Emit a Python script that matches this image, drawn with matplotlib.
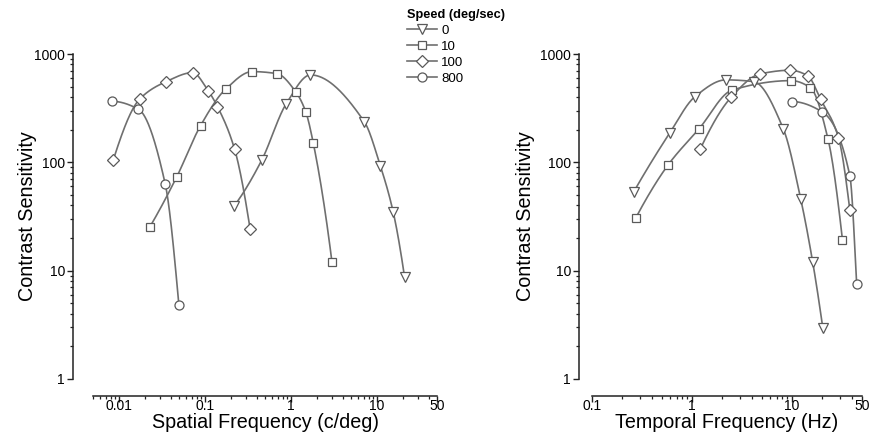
import numpy as np
import matplotlib
matplotlib.use("Agg")
import matplotlib.pyplot as plt
from matplotlib.ticker import FixedLocator, LogLocator, NullFormatter

plt.rcParams['font.family'] = ['Liberation Sans', 'DejaVu Sans']

# legend / series
speeds = ['0', '10', '100', '800']
markers = ['v', 's', 'D', 'o']
msizes = [7.5, 6, 6, 6.5]

# spatial frequency panel (c/deg, contrast sensitivity)
sf_0 = [0.219, 0.456, 0.88, 1.69, 7.12, 10.96, 15.5, 21.0]
cs_sf_0 = [39.6, 104, 346, 641, 238, 93, 34.6, 8.7]
sf_10 = [0.0229, 0.0469, 0.089, 0.174, 0.355, 0.687, 1.14, 1.49, 1.82, 3.0]
cs_sf_10 = [25.3, 73, 218, 473, 688, 659, 447, 292, 151, 12.1]
sf_100 = [0.0086, 0.0175, 0.0355, 0.072, 0.109, 0.140, 0.221, 0.336]
cs_sf_100 = [105, 385, 556, 673, 459, 327, 133, 24.1]
sf_800 = [0.0083, 0.0169, 0.0345, 0.0499]
cs_sf_800 = [366, 309, 63.6, 4.79]

# temporal frequency panel (Hz, contrast sensitivity)
tf_0 = [0.26, 0.597, 1.07, 2.18, 4.13, 8.15, 12.2, 16.1, 20.3]
cs_tf_0 = [53, 186, 404, 577, 556, 205, 45.9, 11.9, 2.94]
tf_10 = [0.275, 0.578, 1.18, 2.5, 9.8, 15.2, 22.9, 31.9]
cs_tf_10 = [30.9, 95, 205, 463, 568, 490, 163, 19.2]
tf_100 = [1.21, 2.48, 4.79, 9.6, 14.3, 19.3, 29.1, 37.8]
cs_tf_100 = [133, 402, 655, 708, 631, 382, 169, 36.3]
tf_800 = [10.0, 19.8, 37.8, 44.2]
cs_tf_800 = [364, 294, 75, 7.6]

y_ticks = [1, 10, 100, 1000]
sf_ticks = [0.01, 0.1, 1, 10, 50]
sf_labels = ['0.01', '0.1', '1', '10', '50']
tf_ticks = [0.1, 1, 10, 50]
tf_labels = ['0.1', '1', '10', '50']

line_col = '#6f6f6f'
edge_col = '#5a5a5a'


def smooth_line(xs, ys, num=300):
    # shape-preserving cubic (pchip) through the points, in log-log space
    x = np.log10(xs)
    y = np.log10(ys)
    n = len(x)
    h = np.diff(x)
    dl = np.diff(y) / h
    m = np.zeros(n)
    for k in range(1, n - 1):
        if dl[k - 1] * dl[k] > 0:
            w1 = 2 * h[k] + h[k - 1]
            w2 = h[k] + 2 * h[k - 1]
            m[k] = (w1 + w2) / (w1 / dl[k - 1] + w2 / dl[k])

    def end(h0, h1, d0, d1):
        e = ((2 * h0 + h1) * d0 - h0 * d1) / (h0 + h1)
        if np.sign(e) != np.sign(d0):
            return 0.0
        if np.sign(d0) != np.sign(d1) and abs(e) > 3 * abs(d0):
            return 3 * d0
        return e

    m[0] = end(h[0], h[1], dl[0], dl[1])
    m[-1] = end(h[-1], h[-2], dl[-1], dl[-2])
    xx = np.linspace(x[0], x[-1], num)
    idx = np.clip(np.searchsorted(x, xx) - 1, 0, n - 2)
    t = (xx - x[idx]) / h[idx]
    h00 = 2 * t ** 3 - 3 * t ** 2 + 1
    h10 = t ** 3 - 2 * t ** 2 + t
    h01 = -2 * t ** 3 + 3 * t ** 2
    h11 = t ** 3 - t ** 2
    yy = h00 * y[idx] + h10 * h[idx] * m[idx] + h01 * y[idx + 1] + h11 * h[idx] * m[idx + 1]
    return 10 ** xx, 10 ** yy


def style(ax, xlim, xticks, xlabels, left_off, xlabel):
    ax.set_xscale('log')
    ax.set_yscale('log')
    ax.set_xlim(*xlim)
    ax.set_ylim(1, 1000)
    for s in ['top', 'right']:
        ax.spines[s].set_visible(False)
    ax.spines['left'].set_position(('outward', left_off))
    ax.spines['bottom'].set_position(('outward', 12.2))
    for s in ['left', 'bottom']:
        ax.spines[s].set_linewidth(1.1)
        ax.spines[s].set_color('#222222')
    ax.xaxis.set_major_locator(FixedLocator(xticks))
    ax.set_xticklabels(xlabels)
    ax.xaxis.set_minor_locator(LogLocator(base=10, subs=np.arange(2, 10), numticks=20))
    ax.xaxis.set_minor_formatter(NullFormatter())
    ax.yaxis.set_major_locator(FixedLocator(y_ticks))
    ax.set_yticklabels([str(v) for v in y_ticks])
    ax.yaxis.set_minor_locator(LogLocator(base=10, subs=np.arange(2, 10), numticks=20))
    ax.yaxis.set_minor_formatter(NullFormatter())
    ax.tick_params(which='major', length=4.3, width=1.0, labelsize=10, color='#222222')
    ax.tick_params(axis='y', which='major', pad=1.5)
    ax.tick_params(axis='x', which='major', pad=-2.0)
    ax.tick_params(which='minor', length=2.2, width=0.9, color='#222222')
    ax.set_xlabel(xlabel, fontsize=14.2)
    ax.set_ylabel('Contrast Sensitivity', fontsize=14.2)
    ax.xaxis.set_label_coords(0.5, -0.106)


fig = plt.figure(figsize=(8.7, 4.43), dpi=100)
ax1 = fig.add_axes([93 / 870, 64 / 443, 344 / 870, 325 / 443])
ax2 = fig.add_axes([592 / 870, 64 / 443, 270 / 870, 325 / 443])

left_sets = [(sf_0, cs_sf_0), (sf_10, cs_sf_10), (sf_100, cs_sf_100), (sf_800, cs_sf_800)]
right_sets = [(tf_0, cs_tf_0), (tf_10, cs_tf_10), (tf_100, cs_tf_100), (tf_800, cs_tf_800)]

handles = []
for ax, sets in [(ax1, left_sets), (ax2, right_sets)]:
    for (x, y), m, ms, lab in zip(sets, markers, msizes, speeds):
        cx, cy = smooth_line(x, y)
        ax.plot(cx, cy, color=line_col, lw=1.2, clip_on=False, zorder=2)
        ax.plot(x, y, ls='none', marker=m, ms=ms, mfc='white', mec=edge_col,
                mew=0.9, clip_on=False, zorder=3)
        if ax is ax1:
            h, = ax.plot([], [], color=line_col, lw=1.2, marker=m, ms=ms,
                         mfc='white', mec=edge_col, mew=0.9, label=lab)
            handles.append(h)

style(ax1, (0.005, 50), sf_ticks, sf_labels, 14.4, 'Spatial Frequency (c/deg)')
style(ax2, (0.1, 50), tf_ticks, tf_labels, 9.4, 'Temporal Frequency (Hz)')
ax1.yaxis.set_label_coords(-0.163, 0.5)
ax2.yaxis.set_label_coords(-0.211, 0.5)

leg = fig.legend(handles=handles, title='Speed (deg/sec)', loc='upper left',
                 bbox_to_anchor=(407 / 870, 1 - 9 / 443), frameon=False,
                 fontsize=9.5, title_fontproperties={'weight': 'bold', 'size': 9.2},
                 handlelength=2.3, handletextpad=0.3, labelspacing=0.28,
                 borderpad=0, borderaxespad=0, alignment='left')

fig.savefig('out.png', dpi=100)
